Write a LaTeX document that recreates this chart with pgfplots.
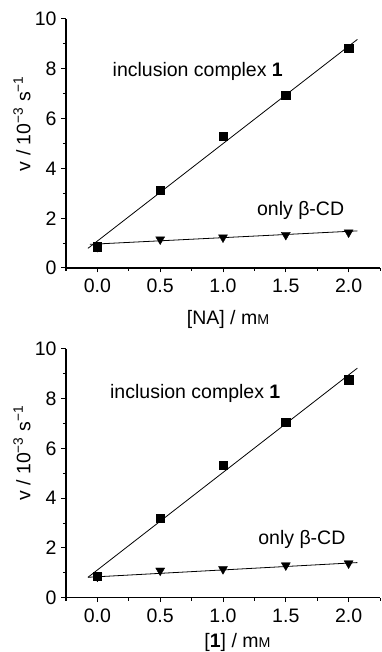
\documentclass[border=0pt]{standalone}
\usepackage{pgfplots}
\pgfplotsset{compat=1.18}
\usepackage{fontspec}
\setmainfont{Liberation Sans}
\newcommand{\fs}{\fontsize{19.5}{22}\selectfont}
\newcommand{\mM}{m{\fontsize{14.2}{15}\selectfont M}}
\pgfplotsset{
  myaxis/.style={
    scale only axis, width=314pt, height=249pt,
    xmin=-0.25, xmax=2.25, ymin=0, ymax=10,
    axis lines=left, axis line style={-, line width=1.2pt},
    xtick={0,0.5,1,1.5,2}, xticklabels={0.0,0.5,1.0,1.5,2.0},
    minor xtick={-0.25,0.25,0.75,1.25,1.75,2.25},
    ytick={0,2,4,6,8,10}, minor ytick={1,3,5,7,9},
    tick align=outside, major tick length=4.5pt, minor tick length=3pt,
    every tick/.style={line width=1pt, black},
    /pgf/number format/assume math mode=true,
    tick label style={font=\fs},
    xticklabel style={yshift=-3pt},
    yticklabel style={xshift=-1.5pt},
    label style={font=\fs},
    ylabel={v / 10\textsuperscript{−3} s\textsuperscript{−1}},
    ylabel style={at={(axis description cs:-0.14,0.58)}, anchor=center, rotate=0},
    clip=false,
  },
  sq/.style={only marks, mark=square*, mark size=4.2pt, black},
  tri/.style={only marks, mark=triangle*, mark size=5.2pt, black, mark options={rotate=180}},
  fit/.style={no marks, black, line width=0.8pt},
}
\begin{document}
\begin{tikzpicture}
\begin{axis}[myaxis,
  xlabel={[NA] / \mM},
  xlabel style={at={(axis description cs:0.516,-0.205)}, anchor=center}]
\addplot[fit] coordinates {(-0.075,0.79) (2.07,9.18)};
\addplot[fit] coordinates {(-0.06,0.95) (2.07,1.49)};
\addplot[sq] coordinates {(0,0.86) (0.5,3.13) (1.0,5.3) (1.5,6.95) (2.0,8.82)};
\addplot[tri] coordinates {(0,0.85) (0.5,1.15) (1.0,1.23) (1.5,1.33) (2.0,1.43)};
\node[font=\fs, anchor=west, inner sep=0pt] at (axis cs:0.12,7.9) {inclusion complex \textbf{1}};
\node[font=\fs, anchor=west, inner sep=0pt] at (axis cs:1.27,2.3) {only β-CD};
\end{axis}
\begin{axis}[myaxis, at={(0pt,-329.7pt)},
  xlabel={[\textbf{1}] / \mM},
  xlabel style={at={(axis description cs:0.546,-0.18)}, anchor=center}]
\addplot[fit] coordinates {(-0.075,0.82) (2.07,9.22)};
\addplot[fit] coordinates {(-0.075,0.82) (2.07,1.41)};
\addplot[sq] coordinates {(0,0.87) (0.5,3.19) (1.0,5.33) (1.5,7.05) (2.0,8.75)};
\addplot[tri] coordinates {(0,0.85) (0.5,1.09) (1.0,1.15) (1.5,1.30) (2.0,1.38)};
\node[font=\fs, anchor=west, inner sep=0pt] at (axis cs:0.10,8.22) {inclusion complex \textbf{1}};
\node[font=\fs, anchor=west, inner sep=0pt] at (axis cs:1.28,2.32) {only β-CD};
\end{axis}
\pgfresetboundingbox
\path[use as bounding box] (-66pt,268pt) rectangle (316pt,-384pt);
\end{tikzpicture}
\end{document}
